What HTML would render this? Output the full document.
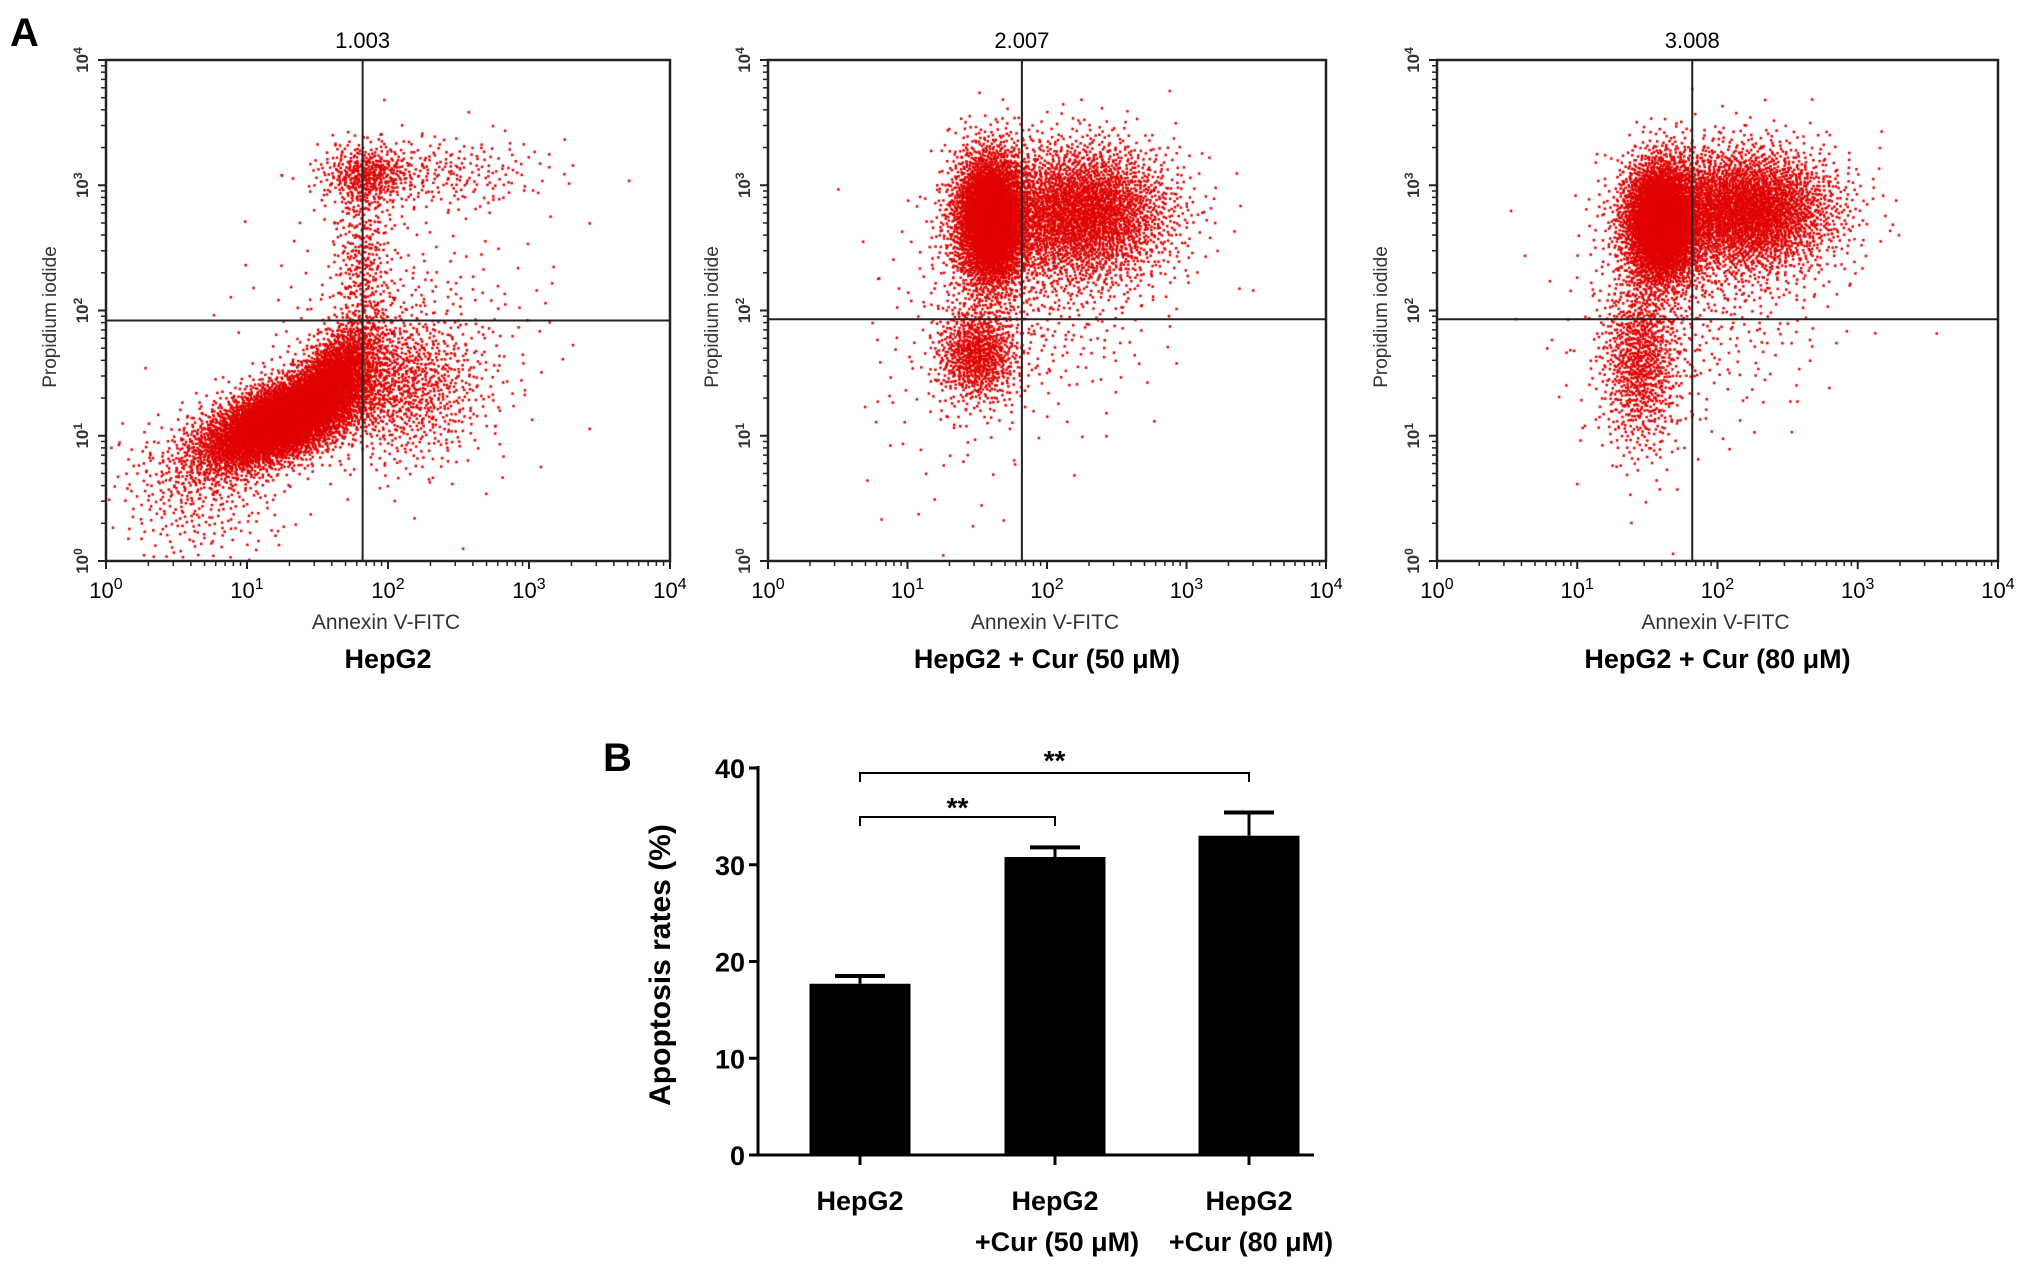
<!DOCTYPE html>
<html><head><meta charset="utf-8">
<style>
body{margin:0;background:#fff;}
#root{position:relative;width:2031px;height:1269px;overflow:hidden;font-family:"Liberation Sans",sans-serif;}
canvas{position:absolute;left:0;top:0;}
svg{position:absolute;left:0;top:0;}
</style></head>
<body>
<div id="root">
<canvas id="dots" width="2031" height="1269"></canvas>
<svg id="svg" width="2031" height="1269"></svg>
</div>
<script>
// ---- Panel A: flow cytometry populations (log10 units): cx, cy, sx, sy, count
const panelTitles = ["1.003","2.007","3.008"];
const panelNames = ["HepG2","HepG2 + Cur (50 μM)","HepG2 + Cur (80 μM)"];
const gateX = [1.82, 1.82, 1.82];
const gateY = [1.92, 1.93, 1.93];
const popCx1 = [1.25, 1.6, 1.85, 2.35, 1.82, 2.1, 0.65, 2.1];
const popCy1 = [1.12, 1.45, 3.08, 3.1, 2.4, 1.8, 0.55, 1.4];
const popSx1 = [0.3, 0.16, 0.16, 0.4, 0.1, 0.5, 0.3, 0.3];
const popSy1 = [0.2, 0.22, 0.12, 0.15, 0.4, 0.55, 0.3, 0.3];
const popN1 = [5200, 1600, 380, 260, 350, 350, 350, 900];
const popCx2 = [1.6, 2.25, 1.5, 1.9, 1.3];
const popCy2 = [2.72, 2.78, 1.65, 2.2, 1.2];
const popSx2 = [0.14, 0.33, 0.15, 0.45, 0.35];
const popSy2 = [0.28, 0.28, 0.2, 0.5, 0.5];
const popN2 = [3600, 3000, 800, 500, 60];
const popCx3 = [1.6, 2.2, 1.45, 1.9, 1.5];
const popCy3 = [2.7, 2.8, 1.6, 2.2, 1.3];
const popSx3 = [0.14, 0.33, 0.14, 0.45, 0.3];
const popSy3 = [0.25, 0.25, 0.35, 0.5, 0.4];
const popN3 = [3600, 3200, 900, 500, 60];
const logTicks = [0,1,2,3,4];
// ---- Panel B: bar chart
const barCats = [["HepG2"],["HepG2","+Cur (50 μM)"],["HepG2","+Cur (80 μM)"]];
const barVals = [17.7, 30.8, 33.0];
const barErr = [0.8, 1.0, 2.4];
const yTicks = [0,10,20,30,40];

const NS="http://www.w3.org/2000/svg";
const svg=document.getElementById('svg');
function el(tag,attrs,parent,txt){const e=document.createElementNS(NS,tag);for(const k in attrs)e.setAttribute(k,attrs[k]);if(txt!==undefined)e.textContent=txt;(parent||svg).appendChild(e);return e;}

const panels=[{l:106,r:670},{l:768,r:1326},{l:1437,r:1998}];
const pTop=60,pBot=561;
const pops=[[popCx1,popCy1,popSx1,popSy1,popN1],[popCx2,popCy2,popSx2,popSy2,popN2],[popCx3,popCy3,popSx3,popSy3,popN3]];
const ctx=document.getElementById('dots').getContext('2d');
function halton(i,b){let f=1,r=0;while(i>0){f/=b;r+=f*(i%b);i=Math.floor(i/b);}return r;}

let lbl=el('text',{x:10,y:46,'font-size':40,'font-weight':'bold'},svg,'A');


panels.forEach((p,pi)=>{
  const sx=v=>p.l+(p.r-p.l)*v/4, sy=v=>pBot-(pBot-pTop)*v/4;
  ctx.fillStyle='#e00000';
  const P=pops[pi];let idx=1+pi*100000;
  for(let k=0;k<P[0].length;k++){
    for(let n=0;n<P[4][k];n++){
      idx++;
      const u1=Math.max(halton(idx,2),1e-6),u2=halton(idx,3);
      const r=Math.sqrt(-2*Math.log(u1));
      const gx=r*Math.cos(2*Math.PI*u2),gy=r*Math.sin(2*Math.PI*u2);
      const rho=(pi===0&&k<2)?0.6:0;
      const x=P[0][k]+P[2][k]*gx, y=P[1][k]+P[3][k]*(rho*gx+Math.sqrt(1-rho*rho)*gy);
      if(x<0||x>4||y<0||y>4)continue;
      ctx.fillRect(sx(x)-1.2,sy(y)-1.2,2.5,2.5);
    }
  }
  const g=el('g',{});
  
  el('rect',{x:p.l,y:pTop,width:p.r-p.l,height:pBot-pTop,fill:'none',stroke:'#222','stroke-width':2.5},g);
  const vl=el('line',{x1:sx(gateX[pi]),x2:sx(gateX[pi]),y1:pTop,y2:pBot,stroke:'#222','stroke-width':2},g);
  
  const hl=el('line',{x1:p.l,x2:p.r,y1:sy(gateY[pi]),y2:sy(gateY[pi]),stroke:'#222','stroke-width':2},g);
  
  logTicks.forEach(t=>{
    el('line',{x1:sx(t),x2:sx(t),y1:pBot,y2:pBot+8,stroke:'#222','stroke-width':2},g);
    el('line',{x1:p.l-8,x2:p.l,y1:sy(t),y2:sy(t),stroke:'#222','stroke-width':2},g);
    if(t<4)for(let m=2;m<10;m++){const v=t+Math.log10(m);
      el('line',{x1:sx(v),x2:sx(v),y1:pBot,y2:pBot+5,stroke:'#222','stroke-width':1.5},g);
      el('line',{x1:p.l-5,x2:p.l,y1:sy(v),y2:sy(v),stroke:'#222','stroke-width':1.5},g);}
    const xt=el('text',{x:sx(t),y:598,'font-size':22,'text-anchor':'middle'},g);
    
    el('tspan',{},xt,'10');el('tspan',{dy:-9,'font-size':16},xt,String(t));
    const yt=el('text',{transform:`translate(${p.l-18},${sy(t)}) rotate(-90)`,'font-size':17,'font-weight':'bold','text-anchor':'middle',fill:'#333'},g);
    
    el('tspan',{},yt,'10');el('tspan',{dy:-6,'font-size':12},yt,String(t));
  });
  const tt=el('text',{x:sx(gateX[pi]),y:48,'font-size':22,'text-anchor':'middle'},g,panelTitles[pi]);
  
  const xa=el('text',{x:(p.l+p.r)/2-2,y:629,'font-size':21,'text-anchor':'middle',fill:'#333'},g,'Annexin V-FITC');
  
  const ya=el('text',{transform:`translate(${p.l-50},317) rotate(-90)`,'font-size':19,'text-anchor':'middle',fill:'#333'},g,'Propidium iodide');
  
  const pn=el('text',{x:(p.l+p.r)/2,y:668,'font-size':27,'font-weight':'bold','text-anchor':'middle'},g,panelNames[pi]);
  
});

// ---- Panel B
const bx0=758,bx1=1314,by0=1155,by40=768;
const yB=v=>by0-(by0-by40)*v/40;
const centers=[860,1055,1249],bw=101;
const gb=el('g',{});
let bl=el('text',{x:603,y:771,'font-size':40,'font-weight':'bold'},gb,'B');

el('line',{x1:bx0,x2:bx0,y1:by40-2,y2:by0,stroke:'#000','stroke-width':3},gb);
el('line',{x1:bx0,x2:bx1,y1:by0,y2:by0,stroke:'#000','stroke-width':3},gb);
yTicks.forEach(t=>{
  el('line',{x1:bx0-9,x2:bx0,y1:yB(t),y2:yB(t),stroke:'#000','stroke-width':3},gb);
  const tl=el('text',{x:bx0-13,y:yB(t)+10,'font-size':27,'font-weight':'bold','text-anchor':'end'},gb,String(t));
  
});
const yt=el('text',{transform:'translate(670,965) rotate(-90)','font-size':30,'font-weight':'bold','text-anchor':'middle'},gb,'Apoptosis rates (%)');

barVals.forEach((v,i)=>{
  const c=centers[i];
  const eb=el('line',{x1:c,x2:c,y1:yB(v+barErr[i]),y2:yB(v),stroke:'#000','stroke-width':3},gb);
  
  el('line',{x1:c-25,x2:c+25,y1:yB(v+barErr[i]),y2:yB(v+barErr[i]),stroke:'#000','stroke-width':4},gb);
  const r=el('rect',{x:c-bw/2,y:yB(v),width:bw,height:by0-yB(v),fill:'#000'},gb);
  
  el('line',{x1:c,x2:c,y1:by0,y2:by0+10,stroke:'#000','stroke-width':3},gb);
  barCats[i].forEach((s,j)=>{
    const ct=el('text',{x:c+(j?2:0),y:1210+j*41,'font-size':27,'font-weight':'bold','text-anchor':'middle'},gb,s);
    
  });
});
function bracket(x1,x2,y,d,ty){
  const b=el('path',{d:`M${x1},${y+d}V${y}H${x2}V${y+d}`,fill:'none',stroke:'#000','stroke-width':2},gb);
  
  const s=el('text',{x:(x1+x2)/2,y:ty,'font-size':28,'font-weight':'bold','text-anchor':'middle'},gb,'**');
  
}
bracket(centers[0],centers[2],773,9,770);
bracket(centers[0],centers[1],817,9,817);
</script>
</body></html>
